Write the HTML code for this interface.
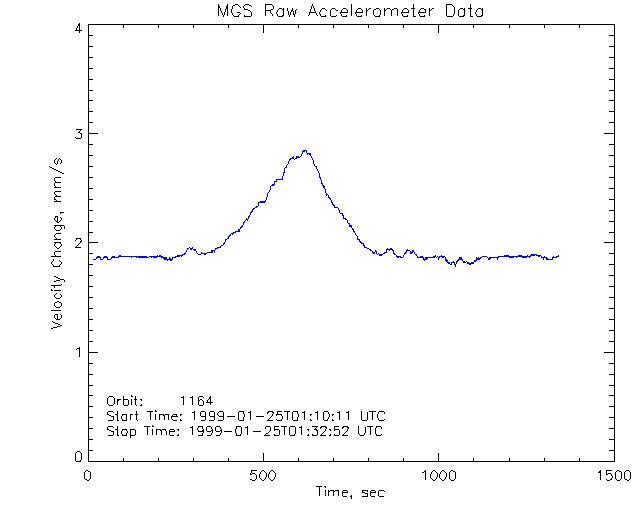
<!DOCTYPE html>
<html lang="en">
<head>
<meta charset="utf-8">
<title>MGS Raw Accelerometer Data</title>
<style>
html,body{margin:0;padding:0;background:#ffffff;}
body{width:640px;height:512px;overflow:hidden;position:relative;font-family:"Liberation Sans",sans-serif;}
svg{display:block;position:absolute;left:0;top:0;}
svg text{font-family:"Liberation Sans",sans-serif;fill:#000000;fill-opacity:0;stroke:none;}
</style>
</head>
<body>
<svg width="640" height="512" viewBox="0 0 640 512" shape-rendering="crispEdges" role="img" aria-label="MGS Raw Accelerometer Data: Velocity Change, mm/s versus Time, sec">
<rect x="0" y="0" width="640" height="512" fill="#ffffff"/>
<!-- plot frame, tick marks and stroked (Hershey simplex) lettering, rasterised to pixel-aligned boxes -->
<path id="ink" fill="#000000" d="M245 4h4v1h-4zM446 4h6v1h-6zM235 4h3v1h-3zM265 4h7v1h-7zM227 4h1v2h-1zM218 4h1v2h-1zM312 4h1v2h-1zM238 5h1v1h-1zM272 5h1v1h-1zM244 5h1v1h-1zM249 5h2v1h-2zM233 5h2v1h-2zM452 5h1v1h-1zM453 6h1v1h-1zM251 6h1v1h-1zM239 6h1v1h-1zM413 4h1v4h-1zM470 4h1v4h-1zM218 6h2v2h-2zM243 6h1v2h-1zM313 6h1v2h-1zM240 7h1v1h-1zM273 6h1v3h-1zM226 6h2v3h-2zM311 6h1v3h-1zM232 6h1v3h-1zM322 8h3v1h-3zM283 8h1v1h-1zM332 8h3v1h-3zM387 8h3v1h-3zM460 8h3v1h-3zM432 8h2v1h-2zM482 8h1v1h-1zM369 8h2v1h-2zM468 8h4v1h-4zM394 8h3v1h-3zM244 8h1v1h-1zM421 8h3v1h-3zM464 8h1v1h-1zM279 8h3v1h-3zM343 8h3v1h-3zM358 8h3v1h-3zM376 8h3v1h-3zM404 8h3v1h-3zM411 8h4v1h-4zM478 8h3v1h-3zM265 5h1v5h-1zM292 8h1v2h-1zM366 8h1v2h-1zM384 8h1v2h-1zM429 8h1v2h-1zM361 9h1v1h-1zM379 9h1v1h-1zM407 9h1v1h-1zM271 9h2v1h-2zM403 9h1v1h-1zM477 9h1v1h-1zM325 9h1v1h-1zM357 9h1v1h-1zM431 9h1v1h-1zM335 9h1v1h-1zM321 9h1v1h-1zM390 9h1v1h-1zM392 9h2v1h-2zM424 9h2v1h-2zM386 9h1v1h-1zM459 9h1v1h-1zM282 9h2v1h-2zM331 9h1v1h-1zM244 9h4v1h-4zM374 9h2v1h-2zM368 9h1v1h-1zM463 9h2v1h-2zM481 9h2v1h-2zM346 9h1v1h-1zM420 9h1v1h-1zM278 9h1v1h-1zM342 9h1v1h-1zM296 9h1v1h-1zM220 8h1v3h-1zM314 8h1v3h-1zM287 8h1v3h-1zM248 10h2v1h-2zM336 10h2v1h-2zM291 10h2v1h-2zM265 10h6v1h-6zM326 10h1v1h-1zM429 10h2v1h-2zM366 10h2v1h-2zM384 10h2v1h-2zM225 9h1v3h-1zM310 9h1v3h-1zM425 10h1v2h-1zM402 10h1v2h-1zM347 10h1v2h-1zM320 10h1v2h-1zM476 10h1v2h-1zM408 10h1v2h-1zM362 10h1v2h-1zM419 10h1v2h-1zM277 10h1v2h-1zM341 10h1v2h-1zM356 10h1v2h-1zM315 11h1v1h-1zM291 11h1v1h-1zM250 11h1v1h-1zM231 9h1v4h-1zM270 11h1v2h-1zM221 11h1v2h-1zM418 12h8v1h-8zM340 12h8v1h-8zM237 12h3v1h-3zM401 12h8v1h-8zM355 12h8v1h-8zM309 12h7v1h-7zM454 7h1v7h-1zM295 10h1v4h-1zM293 11h1v3h-1zM475 12h1v2h-1zM276 12h1v2h-1zM319 12h1v2h-1zM271 13h1v1h-1zM418 13h1v1h-1zM340 13h1v1h-1zM240 13h1v1h-1zM401 13h1v1h-1zM355 13h1v1h-1zM283 10h1v5h-1zM380 10h1v5h-1zM482 10h1v5h-1zM373 10h1v5h-1zM464 10h1v5h-1zM288 11h1v4h-1zM224 12h1v3h-1zM290 12h1v3h-1zM316 13h1v2h-1zM309 13h1v2h-1zM222 13h1v2h-1zM232 13h1v2h-1zM239 14h1v1h-1zM293 14h2v1h-2zM351 4h1v12h-1zM446 5h1v11h-1zM218 8h1v8h-1zM397 9h1v7h-1zM413 9h1v7h-1zM470 9h1v7h-1zM227 9h1v7h-1zM458 10h1v6h-1zM330 10h1v6h-1zM391 10h1v6h-1zM366 11h1v5h-1zM384 11h1v5h-1zM265 11h1v5h-1zM429 11h1v5h-1zM251 12h1v4h-1zM402 14h1v2h-1zM453 14h1v2h-1zM320 14h1v2h-1zM476 14h1v2h-1zM419 14h1v2h-1zM277 14h1v2h-1zM341 14h1v2h-1zM272 14h1v2h-1zM356 14h1v2h-1zM361 15h1v1h-1zM379 15h1v1h-1zM407 15h1v1h-1zM233 15h1v1h-1zM325 15h1v1h-1zM238 15h1v1h-1zM282 15h2v1h-2zM244 15h1v1h-1zM308 15h1v1h-1zM317 15h1v1h-1zM336 15h1v1h-1zM424 15h1v1h-1zM481 15h2v1h-2zM346 15h1v1h-1zM374 15h1v1h-1zM463 15h2v1h-2zM289 15h1v2h-1zM294 15h1v2h-1zM223 15h1v2h-1zM321 16h5v1h-5zM447 16h6v1h-6zM375 16h5v1h-5zM420 16h5v1h-5zM244 16h7v1h-7zM342 16h5v1h-5zM403 16h5v1h-5zM470 16h3v1h-3zM477 16h5v1h-5zM278 16h5v1h-5zM357 16h5v1h-5zM459 16h5v1h-5zM331 16h5v1h-5zM234 16h5v1h-5zM413 16h3v1h-3zM79 23h1v1h-1zM88 24h527v1h-527zM78 24h2v2h-2zM473 25h1v3h-1zM579 25h1v3h-1zM333 25h1v3h-1zM193 25h1v3h-1zM228 25h1v3h-1zM544 25h1v3h-1zM298 25h1v3h-1zM368 25h1v3h-1zM509 25h1v3h-1zM403 25h1v3h-1zM123 25h1v3h-1zM158 25h1v3h-1zM77 26h1v2h-1zM79 26h1v4h-1zM76 28h1v2h-1zM75 30h7v1h-7zM263 25h1v8h-1zM438 25h1v8h-1zM79 31h1v2h-1zM88 25h1v10h-1zM614 25h1v10h-1zM609 35h6v1h-6zM88 35h5v1h-5zM88 36h1v10h-1zM614 36h1v10h-1zM609 46h6v1h-6zM88 46h5v1h-5zM88 47h1v10h-1zM614 47h1v10h-1zM609 57h6v1h-6zM88 57h5v1h-5zM88 58h1v10h-1zM614 58h1v10h-1zM609 68h6v1h-6zM88 68h5v1h-5zM88 69h1v10h-1zM614 69h1v10h-1zM609 79h6v1h-6zM88 79h5v1h-5zM88 80h1v10h-1zM614 80h1v10h-1zM609 90h6v1h-6zM88 90h5v1h-5zM88 91h1v9h-1zM614 91h1v9h-1zM609 100h6v1h-6zM88 100h5v1h-5zM88 101h1v10h-1zM614 101h1v10h-1zM609 111h6v1h-6zM88 111h5v1h-5zM88 112h1v10h-1zM614 112h1v10h-1zM609 122h6v1h-6zM88 122h5v1h-5zM76 129h6v1h-6zM80 130h1v1h-1zM79 131h1v1h-1zM88 123h1v10h-1zM614 123h1v10h-1zM78 132h2v1h-2zM88 133h10v1h-10zM604 133h11v1h-11zM80 133h2v1h-2zM81 134h1v4h-1zM75 137h1v1h-1zM76 138h5v1h-5zM88 134h1v10h-1zM614 134h1v10h-1zM609 144h6v1h-6zM88 144h5v1h-5zM88 145h1v10h-1zM614 145h1v10h-1zM609 155h6v1h-6zM88 155h5v1h-5zM59 158h1v1h-1zM56 158h1v1h-1zM55 159h1v1h-1zM60 159h1v1h-1zM58 159h1v2h-1zM61 160h1v3h-1zM54 160h1v3h-1zM57 161h1v3h-1zM55 163h1v1h-1zM60 163h1v1h-1zM56 164h1v1h-1zM88 156h1v10h-1zM614 156h1v10h-1zM88 166h5v1h-5zM609 166h6v1h-6zM49 166h1v1h-1zM50 167h2v1h-2zM52 168h2v1h-2zM54 169h2v1h-2zM56 170h2v1h-2zM58 171h2v1h-2zM60 172h2v1h-2zM62 173h2v1h-2zM88 167h1v10h-1zM614 167h1v10h-1zM88 177h5v1h-5zM609 177h6v1h-6zM55 177h6v1h-6zM54 178h1v3h-1zM55 181h1v1h-1zM55 182h6v1h-6zM54 183h1v3h-1zM55 186h1v1h-1zM88 178h1v10h-1zM614 178h1v10h-1zM54 187h7v1h-7zM609 188h6v1h-6zM88 188h5v1h-5zM55 191h6v1h-6zM54 192h1v2h-1zM55 194h1v1h-1zM56 195h1v1h-1zM55 196h6v1h-6zM88 189h1v10h-1zM614 189h1v10h-1zM54 197h1v2h-1zM88 199h5v1h-5zM609 199h6v1h-6zM54 199h2v1h-2zM56 200h1v1h-1zM54 201h7v1h-7zM88 200h1v10h-1zM614 200h1v10h-1zM609 210h6v1h-6zM88 210h5v1h-5zM60 212h4v1h-4zM60 213h1v1h-1zM55 216h3v1h-3zM55 217h1v1h-1zM60 217h1v1h-1zM61 218h1v2h-1zM54 218h1v2h-1zM88 211h1v10h-1zM614 211h1v10h-1zM57 217h1v4h-1zM55 220h1v1h-1zM60 220h1v1h-1zM88 221h5v1h-5zM59 221h1v1h-1zM609 221h6v1h-6zM56 221h2v1h-2zM57 222h2v1h-2zM54 225h10v1h-10zM55 226h1v1h-1zM60 226h1v1h-1zM64 226h1v3h-1zM61 227h1v2h-1zM54 227h1v2h-1zM60 229h1v1h-1zM55 229h1v1h-1zM56 230h4v1h-4zM88 222h1v10h-1zM614 222h1v10h-1zM609 232h6v1h-6zM88 232h5v1h-5zM56 233h5v1h-5zM55 234h1v1h-1zM54 235h1v2h-1zM55 237h1v1h-1zM76 238h5v1h-5zM56 238h1v1h-1zM54 239h7v1h-7zM80 239h1v1h-1zM76 239h1v1h-1zM75 240h1v1h-1zM81 240h1v1h-1zM88 233h1v9h-1zM614 233h1v9h-1zM80 241h2v1h-2zM604 242h11v1h-11zM80 242h1v1h-1zM54 242h7v1h-7zM88 242h10v1h-10zM55 243h1v1h-1zM79 243h1v1h-1zM60 243h1v1h-1zM78 244h1v1h-1zM61 244h1v2h-1zM54 244h1v2h-1zM77 245h1v1h-1zM55 246h1v1h-1zM76 246h1v1h-1zM60 246h1v1h-1zM59 247h1v1h-1zM56 247h1v1h-1zM75 247h6v1h-6zM57 248h2v1h-2zM55 251h6v1h-6zM88 243h1v10h-1zM614 243h1v10h-1zM609 253h6v1h-6zM88 253h5v1h-5zM54 252h1v3h-1zM55 255h1v1h-1zM51 256h10v1h-10zM53 259h1v2h-1zM59 260h1v1h-1zM52 261h1v1h-1zM60 261h1v1h-1zM88 254h1v10h-1zM614 254h1v10h-1zM61 262h1v2h-1zM51 262h1v2h-1zM52 264h1v1h-1zM609 264h6v1h-6zM60 264h1v1h-1zM88 264h5v1h-5zM59 265h1v1h-1zM53 265h1v1h-1zM53 266h7v1h-7zM88 265h1v10h-1zM614 265h1v10h-1zM609 275h6v1h-6zM88 275h5v1h-5zM54 276h2v1h-2zM56 277h2v1h-2zM58 278h2v1h-2zM60 279h4v1h-4zM56 280h4v1h-4zM64 280h1v2h-1zM54 281h2v1h-2zM61 284h1v1h-1zM88 276h1v10h-1zM614 276h1v10h-1zM51 285h10v1h-10zM609 286h6v1h-6zM88 286h5v1h-5zM54 286h1v2h-1zM51 289h1v1h-1zM54 290h7v1h-7zM51 290h2v1h-2zM56 293h1v1h-1zM60 294h1v1h-1zM55 294h1v1h-1zM88 287h1v10h-1zM614 287h1v10h-1zM61 295h1v2h-1zM54 295h1v2h-1zM609 297h6v1h-6zM60 297h1v1h-1zM88 297h5v1h-5zM55 297h1v1h-1zM56 298h4v1h-4zM57 301h2v1h-2zM55 302h2v1h-2zM59 302h2v1h-2zM61 303h1v3h-1zM54 303h1v3h-1zM60 306h1v1h-1zM55 306h1v1h-1zM88 298h1v10h-1zM614 298h1v10h-1zM56 307h4v1h-4zM609 308h6v1h-6zM88 308h5v1h-5zM51 310h10v1h-10zM55 314h3v1h-3zM60 314h1v1h-1zM61 315h1v3h-1zM54 315h1v3h-1zM88 309h1v10h-1zM614 309h1v10h-1zM57 315h1v4h-1zM55 318h1v1h-1zM60 318h1v1h-1zM56 319h4v1h-4zM609 319h6v1h-6zM88 319h5v1h-5zM52 321h1v1h-1zM53 322h2v1h-2zM55 323h3v1h-3zM58 324h2v1h-2zM60 325h2v1h-2zM57 326h3v1h-3zM53 327h4v1h-4zM51 328h2v1h-2zM88 320h1v10h-1zM614 320h1v10h-1zM609 330h6v1h-6zM88 330h5v1h-5zM88 331h1v10h-1zM614 331h1v10h-1zM609 341h6v1h-6zM88 341h5v1h-5zM79 347h1v1h-1zM77 348h3v1h-3zM76 349h1v1h-1zM88 342h1v10h-1zM614 342h1v10h-1zM604 352h11v1h-11zM88 352h10v1h-10zM79 349h1v8h-1zM88 353h1v10h-1zM614 353h1v10h-1zM609 363h6v1h-6zM88 363h5v1h-5zM88 364h1v10h-1zM614 364h1v10h-1zM609 374h6v1h-6zM88 374h5v1h-5zM88 375h1v10h-1zM614 375h1v10h-1zM609 385h6v1h-6zM88 385h5v1h-5zM88 386h1v9h-1zM614 386h1v9h-1zM131 395h1v1h-1zM609 395h6v1h-6zM88 395h5v1h-5zM109 396h4v1h-4zM131 396h2v1h-2zM183 396h1v1h-1zM192 396h1v1h-1zM199 396h4v1h-4zM210 396h1v1h-1zM108 397h1v1h-1zM181 397h3v1h-3zM190 397h3v1h-3zM113 397h1v1h-1zM203 397h1v1h-1zM135 396h1v3h-1zM123 396h1v3h-1zM209 397h2v2h-2zM198 397h1v3h-1zM208 399h1v1h-1zM140 399h2v1h-2zM134 399h3v1h-3zM117 399h4v1h-4zM200 399h2v1h-2zM123 399h5v1h-5zM198 400h2v1h-2zM117 400h2v1h-2zM141 400h1v1h-1zM202 400h1v1h-1zM210 399h1v3h-1zM207 400h1v2h-1zM206 402h7v1h-7zM114 398h1v6h-1zM107 398h1v6h-1zM183 398h1v7h-1zM192 398h1v7h-1zM131 399h1v6h-1zM135 400h1v5h-1zM128 400h1v5h-1zM123 400h1v5h-1zM198 401h1v4h-1zM117 401h1v4h-1zM203 401h1v4h-1zM210 403h1v2h-1zM108 404h1v1h-1zM141 404h1v1h-1zM113 404h1v1h-1zM88 396h1v10h-1zM614 396h1v10h-1zM136 405h1v1h-1zM109 405h4v1h-4zM199 405h4v1h-4zM140 405h2v1h-2zM124 405h4v1h-4zM609 406h6v1h-6zM88 406h5v1h-5zM155 410h1v1h-1zM219 411h4v1h-4zM324 411h4v1h-4zM239 411h5v1h-5zM339 411h1v1h-1zM210 411h4v1h-4zM348 411h1v1h-1zM201 411h4v1h-4zM268 411h5v1h-5zM277 411h5v1h-5zM317 411h1v1h-1zM304 411h1v1h-1zM194 411h1v1h-1zM379 411h5v1h-5zM108 411h5v1h-5zM147 411h6v1h-6zM284 411h6v1h-6zM369 411h7v1h-7zM155 411h2v1h-2zM293 411h5v1h-5zM250 411h1v1h-1zM337 412h3v1h-3zM113 412h1v1h-1zM346 412h3v1h-3zM267 412h2v1h-2zM315 412h3v1h-3zM302 412h3v1h-3zM272 412h2v1h-2zM192 412h3v1h-3zM248 412h3v1h-3zM218 412h1v1h-1zM136 411h1v3h-1zM117 411h1v3h-1zM384 412h1v2h-1zM297 412h1v2h-1zM243 412h1v2h-1zM107 412h1v2h-1zM277 412h1v2h-1zM328 412h1v2h-1zM378 412h1v2h-1zM267 413h1v1h-1zM273 413h1v1h-1zM217 413h1v2h-1zM135 414h3v1h-3zM173 414h4v1h-4zM130 414h3v1h-3zM332 414h2v1h-2zM107 414h2v1h-2zM165 414h4v1h-4zM180 414h2v1h-2zM122 414h5v1h-5zM310 414h2v1h-2zM159 414h5v1h-5zM115 414h3v1h-3zM276 414h6v1h-6zM200 412h1v4h-1zM209 412h1v4h-1zM205 412h1v4h-1zM214 412h1v4h-1zM223 412h1v4h-1zM272 414h1v2h-1zM310 415h1v1h-1zM276 415h1v1h-1zM281 415h1v1h-1zM163 415h2v1h-2zM180 415h1v1h-1zM332 415h1v1h-1zM176 415h1v1h-1zM172 415h1v1h-1zM218 415h1v1h-1zM122 415h1v1h-1zM109 415h2v1h-2zM88 407h1v10h-1zM614 407h1v10h-1zM329 414h1v3h-1zM298 414h1v3h-1zM244 414h1v3h-1zM201 416h5v1h-5zM271 416h1v1h-1zM227 416h8v1h-8zM171 416h7v1h-7zM219 416h5v1h-5zM256 416h8v1h-8zM210 416h5v1h-5zM111 416h3v1h-3zM377 414h1v4h-1zM270 417h1v1h-1zM88 417h5v1h-5zM609 417h6v1h-6zM121 416h1v3h-1zM282 416h1v3h-1zM171 417h1v2h-1zM328 417h1v2h-1zM269 418h1v1h-1zM361 411h1v9h-1zM292 412h1v8h-1zM150 412h1v8h-1zM238 412h1v8h-1zM367 412h1v8h-1zM372 412h1v8h-1zM323 412h1v8h-1zM287 412h1v8h-1zM339 413h1v7h-1zM348 413h1v7h-1zM317 413h1v7h-1zM304 413h1v7h-1zM194 413h1v7h-1zM250 413h1v7h-1zM155 414h1v6h-1zM136 415h1v5h-1zM159 415h1v5h-1zM126 415h1v5h-1zM130 415h1v5h-1zM117 415h1v5h-1zM168 415h1v5h-1zM164 416h1v4h-1zM297 417h1v3h-1zM113 417h1v3h-1zM205 417h1v3h-1zM223 417h1v3h-1zM243 417h1v3h-1zM214 417h1v3h-1zM378 418h1v2h-1zM384 419h1v1h-1zM276 419h1v1h-1zM327 419h1v1h-1zM281 419h1v1h-1zM268 419h1v1h-1zM180 419h1v1h-1zM332 419h1v1h-1zM172 419h1v1h-1zM122 419h1v1h-1zM310 419h1v1h-1zM362 420h5v1h-5zM267 420h6v1h-6zM324 420h4v1h-4zM173 420h4v1h-4zM239 420h5v1h-5zM137 420h1v1h-1zM201 420h4v1h-4zM332 420h2v1h-2zM180 420h2v1h-2zM277 420h5v1h-5zM218 420h5v1h-5zM117 420h2v1h-2zM122 420h5v1h-5zM310 420h2v1h-2zM209 420h5v1h-5zM379 420h5v1h-5zM108 420h5v1h-5zM293 420h5v1h-5zM152 425h1v1h-1zM321 426h5v1h-5zM281 426h6v1h-6zM301 426h1v1h-1zM152 426h2v1h-2zM376 426h5v1h-5zM144 426h6v1h-6zM290 426h5v1h-5zM343 426h5v1h-5zM198 426h5v1h-5zM192 426h1v1h-1zM247 426h1v1h-1zM266 426h4v1h-4zM216 426h4v1h-4zM207 426h4v1h-4zM236 426h5v1h-5zM108 426h5v1h-5zM367 426h6v1h-6zM312 426h6v1h-6zM274 426h5v1h-5zM334 426h5v1h-5zM614 418h1v10h-1zM88 418h1v10h-1zM245 427h3v1h-3zM190 427h3v1h-3zM113 427h1v1h-1zM316 427h1v1h-1zM376 427h1v1h-1zM198 427h1v1h-1zM342 427h2v1h-2zM347 427h2v1h-2zM320 427h2v1h-2zM299 427h3v1h-3zM325 427h2v1h-2zM117 426h1v3h-1zM265 427h1v2h-1zM274 427h1v2h-1zM334 427h1v2h-1zM381 427h1v2h-1zM202 427h1v2h-1zM211 427h1v2h-1zM220 427h1v2h-1zM107 427h1v2h-1zM236 427h1v2h-1zM315 428h1v1h-1zM320 428h1v1h-1zM348 428h1v1h-1zM88 428h5v1h-5zM609 428h6v1h-6zM326 428h1v1h-1zM342 428h1v1h-1zM197 428h1v2h-1zM307 429h2v1h-2zM156 429h5v1h-5zM314 429h3v1h-3zM107 429h2v1h-2zM170 429h4v1h-4zM130 429h5v1h-5zM212 429h1v1h-1zM122 429h5v1h-5zM221 429h1v1h-1zM177 429h2v1h-2zM203 429h1v1h-1zM162 429h4v1h-4zM329 429h2v1h-2zM274 429h5v1h-5zM115 429h3v1h-3zM334 429h5v1h-5zM206 427h1v4h-1zM215 427h1v4h-1zM270 427h1v4h-1zM347 429h1v2h-1zM325 429h1v2h-1zM202 430h2v1h-2zM211 430h2v1h-2zM220 430h2v1h-2zM274 430h1v1h-1zM178 430h1v1h-1zM169 430h1v1h-1zM174 430h1v1h-1zM330 430h1v1h-1zM334 430h1v1h-1zM165 430h1v1h-1zM198 430h1v1h-1zM308 430h1v1h-1zM126 430h1v1h-1zM122 430h1v1h-1zM316 430h2v1h-2zM109 430h2v1h-2zM160 430h2v1h-2zM269 431h1v1h-1zM324 431h1v1h-1zM253 431h8v1h-8zM216 431h4v1h-4zM207 431h4v1h-4zM169 431h6v1h-6zM346 431h1v1h-1zM198 431h6v1h-6zM224 431h8v1h-8zM111 431h3v1h-3zM365 427h1v6h-1zM235 429h1v4h-1zM127 431h1v2h-1zM212 431h1v2h-1zM221 431h1v2h-1zM345 432h1v1h-1zM203 432h1v1h-1zM268 432h1v1h-1zM323 432h1v1h-1zM358 426h1v8h-1zM295 427h1v7h-1zM241 427h1v7h-1zM375 428h1v6h-1zM121 431h1v3h-1zM266 433h2v1h-2zM344 433h1v1h-1zM322 433h1v1h-1zM370 427h1v8h-1zM289 427h1v8h-1zM147 427h1v8h-1zM284 427h1v8h-1zM301 428h1v7h-1zM192 428h1v7h-1zM247 428h1v7h-1zM152 429h1v6h-1zM339 430h1v5h-1zM279 430h1v5h-1zM156 430h1v5h-1zM135 430h1v5h-1zM130 430h1v5h-1zM117 430h1v5h-1zM161 431h1v4h-1zM317 431h1v4h-1zM166 431h1v4h-1zM113 432h1v3h-1zM169 432h1v3h-1zM202 433h1v2h-1zM211 433h1v2h-1zM220 433h1v2h-1zM364 433h1v2h-1zM126 433h1v2h-1zM236 433h1v2h-1zM265 434h1v1h-1zM274 434h1v1h-1zM178 434h1v1h-1zM334 434h1v1h-1zM343 434h1v1h-1zM321 434h1v1h-1zM330 434h1v1h-1zM381 434h1v1h-1zM294 434h1v1h-1zM312 434h1v1h-1zM376 434h1v1h-1zM308 434h1v1h-1zM240 434h1v1h-1zM359 434h1v1h-1zM122 434h1v1h-1zM307 435h2v1h-2zM312 435h5v1h-5zM376 435h5v1h-5zM264 435h6v1h-6zM290 435h5v1h-5zM342 435h6v1h-6zM198 435h5v1h-5zM216 435h4v1h-4zM207 435h4v1h-4zM320 435h6v1h-6zM170 435h4v1h-4zM130 435h5v1h-5zM117 435h2v1h-2zM122 435h5v1h-5zM236 435h5v1h-5zM177 435h2v1h-2zM108 435h5v1h-5zM329 435h2v1h-2zM360 435h4v1h-4zM274 435h5v1h-5zM334 435h5v1h-5zM130 436h1v2h-1zM614 429h1v10h-1zM88 429h1v10h-1zM609 439h6v1h-6zM88 439h5v1h-5zM88 440h1v10h-1zM614 440h1v10h-1zM609 450h6v1h-6zM88 450h5v1h-5zM77 451h3v1h-3zM76 452h1v1h-1zM80 452h1v1h-1zM81 453h1v7h-1zM88 451h1v10h-1zM614 451h1v10h-1zM263 453h1v8h-1zM75 453h1v8h-1zM438 453h1v8h-1zM473 458h1v3h-1zM579 458h1v3h-1zM333 458h1v3h-1zM193 458h1v3h-1zM228 458h1v3h-1zM544 458h1v3h-1zM298 458h1v3h-1zM368 458h1v3h-1zM509 458h1v3h-1zM403 458h1v3h-1zM123 458h1v3h-1zM158 458h1v3h-1zM80 460h1v1h-1zM76 461h5v1h-5zM88 461h527v1h-527zM425 470h1v1h-1zM617 470h2v1h-2zM262 470h2v1h-2zM86 470h2v1h-2zM251 470h6v1h-6zM451 470h2v1h-2zM600 470h1v1h-1zM271 470h2v1h-2zM626 470h3v1h-3zM606 470h6v1h-6zM442 470h2v1h-2zM433 470h2v1h-2zM444 471h1v1h-1zM435 471h1v1h-1zM261 471h1v1h-1zM270 471h1v1h-1zM88 471h2v1h-2zM424 471h2v1h-2zM441 471h1v1h-1zM432 471h1v1h-1zM450 471h1v1h-1zM629 471h1v1h-1zM599 471h2v1h-2zM616 471h1v1h-1zM625 471h1v1h-1zM453 471h2v1h-2zM264 471h1v1h-1zM273 471h1v1h-1zM619 471h2v1h-2zM85 471h1v1h-1zM251 471h1v2h-1zM422 472h2v1h-2zM265 472h1v1h-1zM274 472h1v1h-1zM436 472h1v1h-1zM445 472h1v1h-1zM598 472h3v1h-3zM606 471h1v3h-1zM260 472h1v2h-1zM269 472h1v2h-1zM431 472h1v2h-1zM440 472h1v2h-1zM608 473h3v1h-3zM252 473h3v1h-3zM250 473h1v1h-1zM255 474h1v1h-1zM606 474h2v1h-2zM250 474h2v1h-2zM611 474h1v2h-1zM266 473h1v4h-1zM275 473h1v4h-1zM437 473h1v4h-1zM446 473h1v4h-1zM439 474h1v4h-1zM430 474h1v4h-1zM268 474h1v4h-1zM259 474h1v4h-1zM612 476h1v2h-1zM90 472h1v7h-1zM624 472h1v7h-1zM449 472h1v7h-1zM615 472h1v7h-1zM455 472h1v7h-1zM621 472h1v7h-1zM84 472h1v7h-1zM630 472h1v7h-1zM256 475h1v4h-1zM265 477h1v2h-1zM274 477h1v2h-1zM436 477h1v2h-1zM445 477h1v2h-1zM260 478h1v1h-1zM269 478h1v1h-1zM431 478h1v1h-1zM440 478h1v1h-1zM611 478h1v1h-1zM425 472h1v8h-1zM600 473h1v7h-1zM444 479h1v1h-1zM255 479h1v1h-1zM610 479h2v1h-2zM435 479h1v1h-1zM261 479h1v1h-1zM270 479h1v1h-1zM625 479h2v1h-2zM454 479h1v1h-1zM441 479h1v1h-1zM432 479h1v1h-1zM450 479h1v1h-1zM620 479h1v1h-1zM629 479h1v1h-1zM606 479h1v1h-1zM616 479h1v1h-1zM85 479h2v1h-2zM250 479h2v1h-2zM264 479h1v1h-1zM273 479h1v1h-1zM89 479h1v1h-1zM262 480h2v1h-2zM451 480h3v1h-3zM252 480h3v1h-3zM627 480h2v1h-2zM87 480h2v1h-2zM271 480h2v1h-2zM617 480h3v1h-3zM607 480h3v1h-3zM442 480h2v1h-2zM433 480h2v1h-2zM324 486h2v1h-2zM316 486h6v1h-6zM325 487h1v1h-1zM362 490h6v1h-6zM343 490h4v1h-4zM328 490h1v1h-1zM335 490h4v1h-4zM330 490h4v1h-4zM371 490h4v1h-4zM379 490h5v1h-5zM333 491h2v1h-2zM370 491h1v1h-1zM347 491h1v1h-1zM362 491h1v1h-1zM375 491h1v1h-1zM384 491h1v1h-1zM342 491h1v1h-1zM328 491h2v1h-2zM367 491h1v1h-1zM342 492h6v1h-6zM370 492h6v1h-6zM362 492h3v1h-3zM365 493h3v1h-3zM319 487h1v9h-1zM325 490h1v6h-1zM378 491h1v5h-1zM338 491h1v5h-1zM333 492h1v4h-1zM328 492h1v4h-1zM370 493h1v3h-1zM342 493h1v3h-1zM367 494h1v2h-1zM351 495h1v1h-1zM343 496h4v1h-4zM371 496h4v1h-4zM350 496h2v1h-2zM362 496h6v1h-6zM379 496h5v1h-5zM351 497h1v2h-1z"/>
<!-- accelerometer velocity-change trace -->
<path id="trace" fill="#0000ff" d="M303 150h4v1h-4zM302 151h3v1h-3zM306 151h1v2h-1zM302 152h1v2h-1zM307 153h4v1h-4zM307 154h1v1h-1zM309 154h2v1h-2zM301 154h1v2h-1zM310 155h1v1h-1zM296 156h3v1h-3zM300 156h1v1h-1zM293 156h1v1h-1zM311 156h1v2h-1zM296 157h4v1h-4zM292 157h2v1h-2zM295 158h2v1h-2zM290 158h4v1h-4zM312 158h1v2h-1zM294 159h1v1h-1zM289 159h2v1h-2zM289 160h1v1h-1zM313 160h1v4h-1zM288 161h1v3h-1zM287 164h1v1h-1zM314 164h1v2h-1zM286 165h1v2h-1zM315 166h2v1h-2zM285 167h2v1h-2zM316 167h1v2h-1zM317 169h1v2h-1zM284 168h1v4h-1zM318 171h1v2h-1zM283 172h2v1h-2zM283 173h1v3h-1zM319 173h1v4h-1zM319 177h2v1h-2zM282 176h1v3h-1zM320 178h1v2h-1zM276 179h7v1h-7zM276 180h1v1h-1zM274 181h3v1h-3zM321 180h1v3h-1zM274 182h1v2h-1zM321 183h2v1h-2zM272 184h3v1h-3zM322 184h1v1h-1zM322 185h2v1h-2zM271 185h3v1h-3zM323 186h2v2h-2zM324 188h1v1h-1zM270 186h1v4h-1zM269 190h1v2h-1zM325 189h1v4h-1zM268 192h1v1h-1zM326 193h1v1h-1zM326 194h2v1h-2zM326 195h1v1h-1zM267 193h1v4h-1zM328 195h1v2h-1zM328 197h2v1h-2zM329 198h2v1h-2zM266 197h1v3h-1zM330 199h1v1h-1zM265 200h1v1h-1zM331 200h1v2h-1zM260 201h6v1h-6zM258 202h7v1h-7zM331 202h2v1h-2zM332 203h1v1h-1zM332 204h2v1h-2zM258 203h1v3h-1zM333 205h2v1h-2zM334 206h1v1h-1zM256 206h2v1h-2zM334 207h4v1h-4zM255 207h2v1h-2zM253 208h2v1h-2zM338 208h1v2h-1zM252 209h2v1h-2zM252 210h1v1h-1zM251 211h2v1h-2zM339 210h1v3h-1zM250 212h2v1h-2zM340 213h3v1h-3zM250 213h1v2h-1zM342 214h1v1h-1zM342 215h2v1h-2zM249 215h1v1h-1zM248 216h2v1h-2zM343 216h1v2h-1zM248 217h1v2h-1zM246 218h1v1h-1zM343 218h3v1h-3zM246 219h2v1h-2zM345 219h2v1h-2zM245 220h1v1h-1zM247 220h1v1h-1zM244 221h1v1h-1zM347 220h1v3h-1zM243 222h2v1h-2zM348 223h2v1h-2zM243 223h1v2h-1zM349 224h1v1h-1zM242 225h1v1h-1zM349 225h3v2h-3zM241 226h2v1h-2zM240 227h2v1h-2zM351 227h1v1h-1zM240 228h1v1h-1zM352 228h1v1h-1zM352 229h2v1h-2zM238 229h2v2h-2zM353 230h1v1h-1zM353 231h2v1h-2zM235 231h5v1h-5zM354 232h1v1h-1zM233 232h3v1h-3zM231 233h3v1h-3zM355 233h1v2h-1zM232 234h1v1h-1zM230 234h1v1h-1zM229 235h2v1h-2zM356 235h1v1h-1zM228 236h2v1h-2zM228 237h1v1h-1zM357 236h1v3h-1zM227 238h2v1h-2zM225 239h2v1h-2zM357 239h3v1h-3zM359 240h1v1h-1zM225 240h1v2h-1zM359 241h2v1h-2zM224 242h1v1h-1zM360 242h2v1h-2zM361 243h3v1h-3zM223 243h2v1h-2zM363 244h1v1h-1zM223 244h1v1h-1zM363 245h2v1h-2zM221 245h2v1h-2zM220 246h1v1h-1zM364 246h1v1h-1zM364 247h3v1h-3zM189 247h1v1h-1zM217 247h4v1h-4zM192 247h1v1h-1zM390 248h2v1h-2zM367 248h2v1h-2zM215 248h3v1h-3zM190 248h3v1h-3zM187 248h2v1h-2zM387 248h1v1h-1zM215 249h1v1h-1zM386 249h7v1h-7zM407 249h1v1h-1zM193 249h3v1h-3zM190 249h2v1h-2zM187 249h1v1h-1zM369 249h2v1h-2zM406 250h4v1h-4zM375 250h1v1h-1zM194 250h2v1h-2zM211 250h4v1h-4zM370 250h2v1h-2zM392 250h2v1h-2zM389 250h1v1h-1zM186 250h1v2h-1zM412 250h2v2h-2zM386 250h1v2h-1zM372 251h1v1h-1zM211 251h2v1h-2zM406 251h1v1h-1zM375 251h2v1h-2zM410 251h1v1h-1zM393 251h1v2h-1zM214 251h1v2h-1zM196 251h1v2h-1zM410 252h3v1h-3zM384 252h3v1h-3zM207 252h6v1h-6zM201 252h1v1h-1zM405 252h2v1h-2zM372 252h3v1h-3zM185 252h1v1h-1zM414 252h1v2h-1zM376 252h1v2h-1zM197 253h1v1h-1zM184 253h2v1h-2zM393 253h2v1h-2zM378 253h1v1h-1zM383 253h2v1h-2zM410 253h2v1h-2zM201 253h6v1h-6zM404 253h2v1h-2zM373 253h2v1h-2zM379 254h4v1h-4zM204 254h2v1h-2zM404 254h1v1h-1zM531 254h6v1h-6zM394 254h2v1h-2zM182 254h3v1h-3zM415 254h2v1h-2zM198 254h3v1h-3zM377 254h1v1h-1zM119 255h2v1h-2zM558 255h1v1h-1zM159 255h2v1h-2zM536 255h5v1h-5zM177 255h6v1h-6zM157 255h1v1h-1zM527 255h1v1h-1zM416 255h1v1h-1zM379 255h3v1h-3zM530 255h5v1h-5zM435 255h1v1h-1zM518 255h4v1h-4zM396 255h1v1h-1zM441 255h1v1h-1zM504 255h5v1h-5zM403 255h1v2h-1zM556 256h3v1h-3zM482 256h5v1h-5zM112 256h3v1h-3zM433 256h3v1h-3zM541 256h1v1h-1zM420 256h3v1h-3zM417 256h1v1h-1zM538 256h2v1h-2zM175 256h5v1h-5zM498 256h33v1h-33zM396 256h5v1h-5zM439 256h6v1h-6zM104 256h3v1h-3zM437 256h1v1h-1zM149 256h14v1h-14zM181 256h1v1h-1zM553 256h1v1h-1zM97 256h3v1h-3zM544 256h1v1h-1zM118 256h29v1h-29zM96 257h5v1h-5zM136 257h1v1h-1zM425 257h10v1h-10zM489 257h10v1h-10zM509 257h5v1h-5zM476 257h1v1h-1zM169 257h1v1h-1zM138 257h11v1h-11zM151 257h1v1h-1zM111 257h8v1h-8zM552 257h5v1h-5zM417 257h7v1h-7zM436 257h1v1h-1zM442 257h2v1h-2zM103 257h5v1h-5zM478 257h1v1h-1zM487 257h1v1h-1zM541 257h6v1h-6zM438 257h2v1h-2zM529 257h1v1h-1zM397 257h2v1h-2zM480 257h2v1h-2zM153 257h4v1h-4zM161 257h6v1h-6zM516 257h1v1h-1zM522 257h5v1h-5zM131 257h1v1h-1zM172 257h4v1h-4zM400 257h3v1h-3zM445 257h1v2h-1zM459 257h3v2h-3zM546 258h2v1h-2zM163 258h4v1h-4zM488 258h3v1h-3zM100 258h1v1h-1zM96 258h1v1h-1zM425 258h3v1h-3zM111 258h1v1h-1zM423 258h1v1h-1zM552 258h1v1h-1zM107 258h1v1h-1zM103 258h1v1h-1zM169 258h2v1h-2zM476 258h5v1h-5zM172 258h1v1h-1zM497 258h1v2h-1zM543 258h1v2h-1zM438 258h1v2h-1zM100 259h3v1h-3zM445 259h2v1h-2zM423 259h4v1h-4zM458 259h5v1h-5zM546 259h7v1h-7zM164 259h9v1h-9zM93 259h3v1h-3zM476 259h4v1h-4zM488 259h2v1h-2zM107 259h4v1h-4zM474 260h3v1h-3zM424 260h1v1h-1zM167 260h1v1h-1zM462 260h1v1h-1zM457 260h2v1h-2zM170 260h2v1h-2zM445 260h3v1h-3zM456 261h2v1h-2zM474 261h2v1h-2zM453 261h1v1h-1zM463 261h2v1h-2zM466 261h1v1h-1zM446 261h2v1h-2zM447 262h3v1h-3zM467 262h2v1h-2zM463 262h3v1h-3zM471 262h3v1h-3zM451 262h4v1h-4zM456 262h1v2h-1zM448 263h2v1h-2zM454 263h1v1h-1zM467 263h7v1h-7zM451 263h1v1h-1zM454 264h2v1h-2zM469 264h2v1h-2zM450 264h2v1h-2zM455 265h1v2h-1z"/>
<!-- live text (kept transparent; the visible lettering above is the plotter stroke font) -->
<g>
<text x="351" y="16" font-size="15" text-anchor="middle">MGS Raw Accelerometer Data</text>
<text x="83" y="33" font-size="12" text-anchor="end">4</text>
<text x="83" y="138" font-size="12" text-anchor="end">3</text>
<text x="83" y="247" font-size="12" text-anchor="end">2</text>
<text x="83" y="357" font-size="12" text-anchor="end">1</text>
<text x="83" y="461" font-size="12" text-anchor="end">0</text>
<text x="88" y="480" font-size="12" text-anchor="middle">0</text>
<text x="263" y="480" font-size="12" text-anchor="middle">500</text>
<text x="438" y="480" font-size="12" text-anchor="middle">1000</text>
<text x="614" y="480" font-size="12" text-anchor="middle">1500</text>
<text x="351" y="496" font-size="12" text-anchor="middle">Time, sec</text>
<text transform="translate(61 243) rotate(-90)" font-size="12" text-anchor="middle">Velocity Change, mm/s</text>
<text x="106" y="405" font-size="11" xml:space="preserve">Orbit:     1164</text>
<text x="106" y="420" font-size="11">Start Time: 1999-01-25T01:10:11 UTC</text>
<text x="106" y="435" font-size="11">Stop Time: 1999-01-25T01:32:52 UTC</text>
</g>
</svg>
</body>
</html>
